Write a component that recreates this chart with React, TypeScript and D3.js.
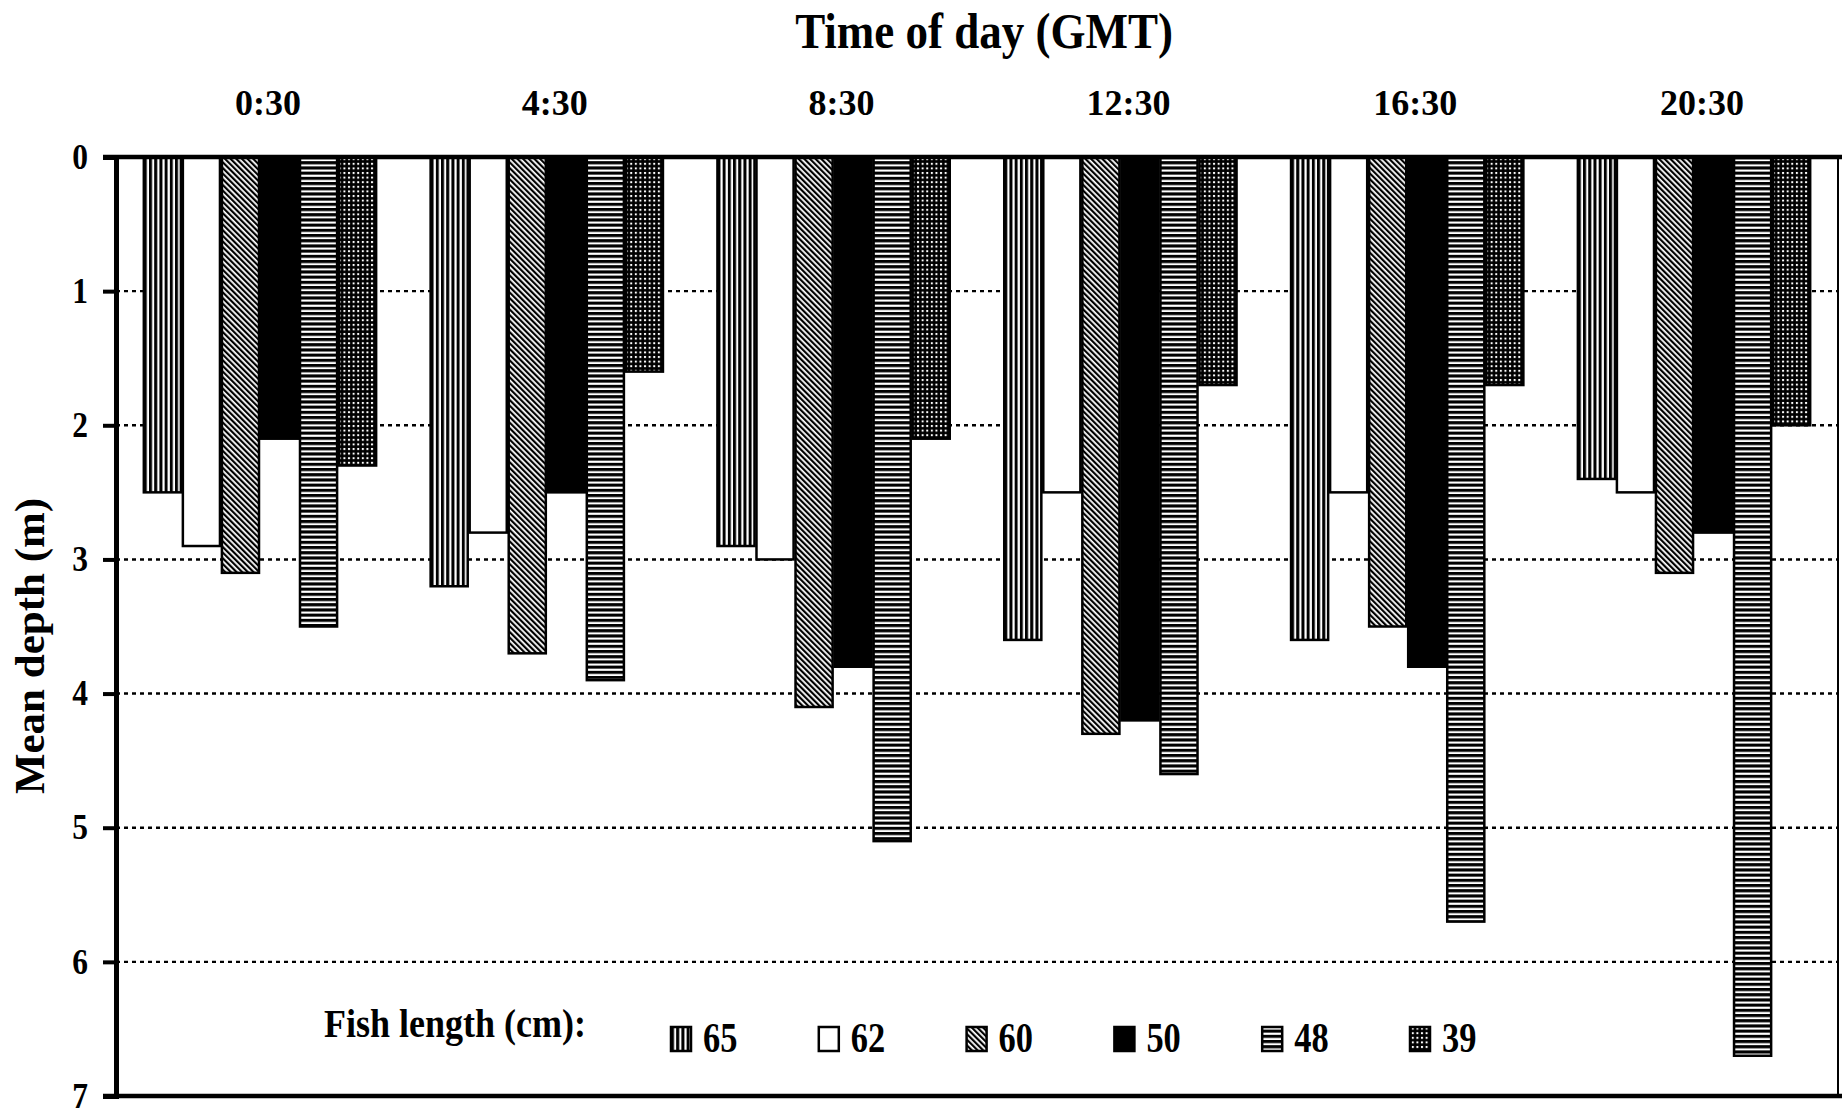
import React, { useEffect, useRef } from "react";
import * as d3 from "d3";

// time of day groups and fish lengths (cm)
const times = ["0:30", "4:30", "8:30", "12:30", "16:30", "20:30"];
const lengths = ["65", "62", "60", "50", "48", "39"];

// mean depth (m) per fish, one value per time of day
const depth65 = [2.5, 3.2, 2.9, 3.6, 3.6, 2.4];
const depth62 = [2.9, 2.8, 3.0, 2.5, 2.5, 2.5];
const depth60 = [3.1, 3.7, 4.1, 4.3, 3.5, 3.1];
const depth50 = [2.1, 2.5, 3.8, 4.2, 3.8, 2.8];
const depth48 = [3.5, 3.9, 5.1, 4.6, 5.7, 6.7];
const depth39 = [2.3, 1.6, 2.1, 1.7, 1.7, 2.0];

const depthTicks = [0, 1, 2, 3, 4, 5, 6, 7];

const FONT = "'Liberation Serif', 'Times New Roman', serif";

export default function App() {
    const ref = useRef<SVGSVGElement>(null);

    useEffect(() => {
        const svg = d3.select(ref.current);
        svg.selectAll("*").remove();

        const width = 1843, height = 1108;
        const left = 116, right = 1838, top = 157, bottom = 1096;

        const series = [depth65, depth62, depth60, depth50, depth48, depth39];
        const fills = ["url(#p65)", "#fff", "url(#p60)", "#000", "url(#p48)", "url(#p39)"];

        // patterns for the black and white bars
        const defs = svg.append("defs");
        const p65 = defs.append("pattern").attr("id", "p65")
            .attr("patternUnits", "userSpaceOnUse").attr("width", 5.2).attr("height", 10);
        p65.append("rect").attr("width", 5.2).attr("height", 10).attr("fill", "#fff");
        p65.append("rect").attr("width", 3).attr("height", 10).attr("fill", "#000");

        const p60 = defs.append("pattern").attr("id", "p60")
            .attr("patternUnits", "userSpaceOnUse").attr("width", 4).attr("height", 10)
            .attr("patternTransform", "rotate(-45)");
        p60.append("rect").attr("width", 4).attr("height", 10).attr("fill", "#fff");
        p60.append("rect").attr("width", 2.2).attr("height", 10).attr("fill", "#000");

        const p48 = defs.append("pattern").attr("id", "p48")
            .attr("patternUnits", "userSpaceOnUse").attr("width", 10).attr("height", 5.2);
        p48.append("rect").attr("width", 10).attr("height", 5.2).attr("fill", "#fff");
        p48.append("rect").attr("width", 10).attr("height", 3.1).attr("fill", "#000");

        const p39 = defs.append("pattern").attr("id", "p39")
            .attr("patternUnits", "userSpaceOnUse").attr("width", 4.6).attr("height", 4.6);
        p39.append("rect").attr("width", 4.6).attr("height", 4.6).attr("fill", "#000");
        p39.append("rect").attr("x", 1.8).attr("y", 1.8).attr("width", 2).attr("height", 2).attr("fill", "#fff");

        svg.attr("width", width).attr("height", height);

        const x0 = d3.scaleBand<string>()
            .domain(times)
            .range([left, right])
            .paddingInner(0.19)
            .paddingOuter(0.097);

        const x1 = d3.scaleBand<string>()
            .domain(lengths)
            .range([0, x0.bandwidth()])
            .paddingInner(0.05);

        const y = d3.scaleLinear().domain([0, 7]).range([top, bottom]);

        // dotted gridlines
        svg.append("g")
            .selectAll("line")
            .data(depthTicks.filter(d => d > 0 && d < 7))
            .join("line")
            .attr("x1", left).attr("x2", right)
            .attr("y1", d => y(d)).attr("y2", d => y(d))
            .attr("stroke", "#000")
            .attr("stroke-width", 2.4)
            .attr("stroke-dasharray", "4 4");

        // bars
        const groups = svg.append("g")
            .selectAll("g")
            .data(times)
            .join("g")
            .attr("transform", d => "translate(" + x0(d) + ",0)");

        groups.selectAll("rect")
            .data((t, i) => lengths.map((l, j) => ({ l, v: series[j][i], fill: fills[j] })))
            .join("rect")
            .attr("x", d => x1(d.l)!)
            .attr("y", y(0))
            .attr("width", x1.bandwidth())
            .attr("height", d => y(d.v) - y(0))
            .attr("fill", d => d.fill)
            .attr("stroke", "#000")
            .attr("stroke-width", 2.5);

        // frame
        svg.append("line").attr("x1", right).attr("x2", right).attr("y1", top).attr("y2", bottom)
            .attr("stroke", "#000").attr("stroke-width", 2);
        svg.append("line").attr("x1", left - 13).attr("x2", 1842).attr("y1", top).attr("y2", top)
            .attr("stroke", "#000").attr("stroke-width", 4.5);
        svg.append("line").attr("x1", left - 13).attr("x2", 1842).attr("y1", bottom).attr("y2", bottom)
            .attr("stroke", "#000").attr("stroke-width", 4.5);

        // y axis
        const yAxis = svg.append("g")
            .attr("transform", "translate(" + left + ",0)")
            .call(d3.axisLeft(y).tickValues(depthTicks).tickSize(13).tickFormat(d3.format("d")));
        yAxis.select(".domain").attr("stroke-width", 5);
        yAxis.selectAll(".tick line").attr("stroke-width", 4);
        yAxis.selectAll(".tick text")
            .attr("x", 0)
            .attr("transform", "translate(-28,0) scale(0.9,1)")
            .attr("font-family", FONT).attr("font-weight", "bold")
            .attr("font-size", 35).attr("fill", "#000");

        // time of day labels
        svg.append("g")
            .selectAll("text")
            .data(times)
            .join("text")
            .attr("x", d => x0(d)! + x0.bandwidth() / 2 + 8)
            .attr("y", 115)
            .attr("text-anchor", "middle")
            .attr("font-family", FONT).attr("font-weight", "bold").attr("font-size", 36)
            .text(d => d);

        svg.append("text")
            .attr("transform", "translate(984,48) scale(0.9,1)")
            .attr("text-anchor", "middle")
            .attr("font-family", FONT).attr("font-weight", "bold").attr("font-size", 50)
            .text("Time of day (GMT)");

        svg.append("text")
            .attr("transform", "translate(44,646) rotate(-90)")
            .attr("text-anchor", "middle")
            .attr("font-family", FONT).attr("font-weight", "bold").attr("font-size", 43)
            .text("Mean depth (m)");

        // legend
        svg.append("text")
            .attr("transform", "translate(324,1037) scale(0.9,1)")
            .attr("font-family", FONT).attr("font-weight", "bold").attr("font-size", 40)
            .text("Fish length (cm):");

        const legendX = d3.scalePoint<string>().domain(lengths).range([671, 1410]);
        const items = svg.append("g")
            .selectAll("g")
            .data(lengths.map((l, j) => ({ l, fill: fills[j] })))
            .join("g")
            .attr("transform", d => "translate(" + legendX(d.l) + ",0)");
        items.append("rect")
            .attr("x", 0).attr("y", 1027)
            .attr("width", 20).attr("height", 24)
            .attr("fill", d => d.fill)
            .attr("stroke", "#000").attr("stroke-width", 2.5);
        items.append("text")
            .attr("transform", "translate(32,1052) scale(0.82,1)")
            .attr("font-family", FONT).attr("font-weight", "bold").attr("font-size", 42)
            .text(d => d.l);
    }, []);

    return (
        <svg ref={ref} width={1843} height={1108}
             style={{ position: "absolute", left: 0, top: 0, background: "#fff" }} />
    );
}
